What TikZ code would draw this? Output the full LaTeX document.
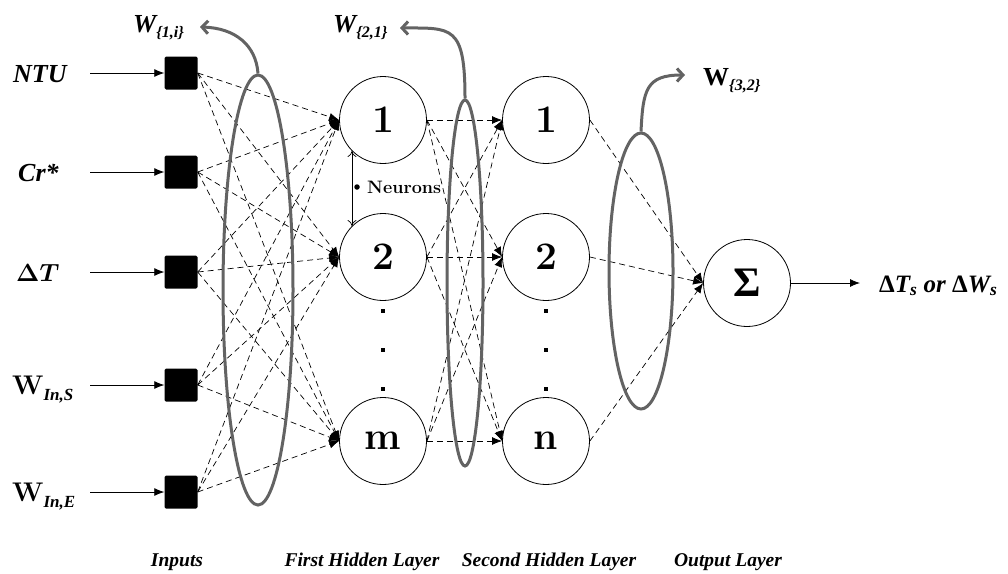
\documentclass[tikz,border=0pt]{standalone}
\usepackage{fontspec}
\usepackage{amsmath}
\newfontfamily\tms{Liberation Serif}
\usetikzlibrary{arrows.meta,shapes.geometric}
\definecolor{gc}{HTML}{636363}
\begin{document}
\begin{tikzpicture}[x=1pt,y=-1pt,
 inp/.style={fill=black,minimum size=33pt,inner sep=0pt,rounded corners=1.5pt},
 neuron/.style={circle,draw,line width=0.8pt,minimum size=87pt,inner sep=0pt,font=\fontsize{39}{39}\selectfont\bfseries},
 conn/.style={line width=0.7pt,dash pattern=on 6pt off 4pt,-{Latex[length=10pt,width=8pt]}},
 solidarrow/.style={line width=0.8pt,-{Latex[length=10pt,width=8pt]}},
 gring/.style={ellipse,draw=gc,line width=3pt,inner sep=0pt},
 garrow/.style={draw=gc,line width=3pt,-{Straight Barb[length=6pt,width=13pt]}},
 tlab/.style={font=\tms\bfseries\itshape\fontsize{26}{26}\selectfont,inner sep=0pt},
 blab/.style={font=\tms\bfseries\itshape\fontsize{19.5}{20}\selectfont,inner sep=0pt,anchor=base},
 dotn/.style={fill=black,minimum size=4.5pt,inner sep=0pt}
]
\useasboundingbox (0,0) rectangle (1008,573);
% inputs
\node[inp] (i1) at (181,73) {};
\node[inp] (i2) at (181,172) {};
\node[inp] (i3) at (181,272) {};
\node[inp] (i4) at (181,385) {};
\node[inp] (i5) at (181,492) {};
\node[tlab,anchor=base west] (l1) at (13,82) {NTU};
\node[tlab,anchor=base west] (l2) at (18,181) {Cr*};
\node[anchor=base west,inner sep=0pt,font=\fontsize{26}{26}\selectfont] (l3) at (16,281) {$\boldsymbol{\Delta T}$};
\node[anchor=base west,inner sep=0pt,font=\fontsize{27}{27}\selectfont\bfseries] (l4) at (12,394) {W\raisebox{-6pt}{\tms\bfseries\itshape\fontsize{17}{17}\selectfont In,S}};
\node[anchor=base west,inner sep=0pt,font=\fontsize{27}{27}\selectfont\bfseries] (l5) at (12,501) {W\raisebox{-6pt}{\tms\bfseries\itshape\fontsize{17}{17}\selectfont In,E}};
\foreach \k/\y in {1/73,2/172,3/272,4/385,5/492}{
  \coordinate (a\k) at (90,\y);
  \draw[solidarrow] (a\k) -- (i\k.west);
}
% hidden layers
\node[neuron] (h1) at (383,120) {1};
\node[neuron] (h2) at (383,257) {2};
\node[neuron] (h3) at (383,441) {m};
\node[neuron] (k1) at (546,120) {1};
\node[neuron] (k2) at (546,257) {2};
\node[neuron] (k3) at (546,441) {n};
\node[neuron,font=\tms\bfseries\fontsize{42}{42}\selectfont] (s) at (747,283) {Σ};
% dots
\foreach \y [count=\j] in {311,350,389}{
  \node[dotn] (dh\j) at (383,\y) {};
  \node[dotn] (dk\j) at (546,\y) {};
}
% connections
\foreach \a in {1,...,5}{\foreach \b in {1,2,3}{\draw[conn] (i\a.east) -- (h\b.west);}}
\foreach \a in {1,2,3}{\foreach \b in {1,2,3}{\draw[conn] (h\a.east) -- (k\b.west);}}
\foreach \a in {1,2,3}{\draw[conn] (k\a.east) -- (s.west);}
% output
\coordinate (oe) at (860,283);
\draw[solidarrow] (s.east) -- (oe);
\node[anchor=base west,inner sep=0pt,font=\tms\bfseries\itshape\fontsize{25}{25}\selectfont] (out) at (879,292) {{\upshape Δ}T\textsubscript{s} or {\upshape Δ}W\textsubscript{s}};
% neurons annotation
\draw[line width=0.7pt,{To[length=6pt,width=9pt]}-{To[length=6pt,width=9pt]}] (h1.225) -- (h2.135);
\node[circle,fill=black,minimum size=5.5pt,inner sep=0pt] (nd) at (357,187) {};
\node[anchor=west,inner sep=0pt,font=\bfseries\fontsize{18}{18}\selectfont] (nl) at (367,187) {Neurons};
% weight groups
\node[gring,minimum width=70pt,minimum height=430pt] (e1) at (258,290) {};
\node[gring,minimum width=36pt,minimum height=366pt] (e2) at (465,283) {};
\node[gring,minimum width=64pt,minimum height=276pt] (e3) at (641,271) {};
\coordinate (t1) at (200,27);
\coordinate (t2) at (400,28);
\coordinate (t3) at (685,75);
\draw[garrow] (e1.north) .. controls (256,45) and (235,28) .. (t1);
\draw[garrow] (e2.north) .. controls (465,25) and (452,28) .. (t2);
\draw[garrow] (e3.north) .. controls (643,90) and (646,75) .. (t3);
\node[tlab,anchor=base west] (w1) at (133,32) {W\raisebox{-5pt}{\fontsize{16}{16}\selectfont\{1,i\}}};
\node[tlab,anchor=base west] (w2) at (333,32) {W\raisebox{-5pt}{\fontsize{16}{16}\selectfont\{2,1\}}};
\node[tlab,anchor=base west,font=\tms\bfseries\fontsize{26}{26}\selectfont] (w3) at (703,85) {W\raisebox{-5pt}{\itshape\fontsize{16}{16}\selectfont\{3,2\}}};
% bottom labels
\node[blab] (b1) at (177,566) {Inputs};
\node[blab] (b2) at (362,566) {First Hidden Layer};
\node[blab] (b3) at (549,566) {Second Hidden Layer};
\node[blab] (b4) at (728,566) {Output Layer};
\end{tikzpicture}
\end{document}
